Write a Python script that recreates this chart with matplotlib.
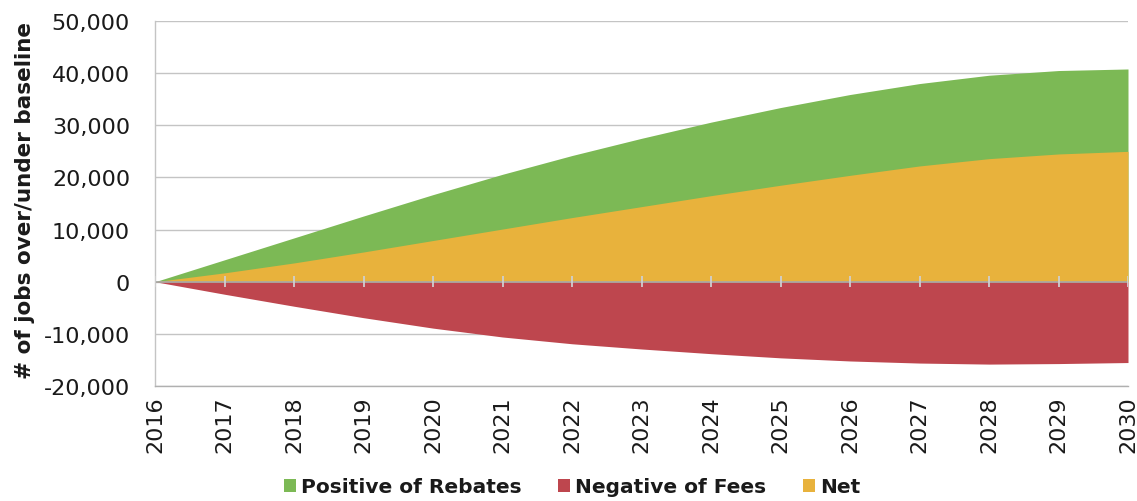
import matplotlib
matplotlib.use("Agg")
import matplotlib.pyplot as plt
from matplotlib.patches import Patch
from matplotlib.ticker import FuncFormatter, MultipleLocator

years = [2016, 2017, 2018, 2019, 2020, 2021, 2022, 2023, 2024, 2025, 2026, 2027, 2028, 2029, 2030]
positive_rebates = [0, 4200, 8400, 12600, 16700, 20600, 24200, 27500, 30600, 33400, 35900, 38000, 39600, 40500, 40800]
negative_fees = [0, -2400, -4700, -6900, -8900, -10600, -11900, -12900, -13800, -14600, -15200, -15600, -15800, -15700, -15500]
net = [0, 1700, 3600, 5700, 7900, 10100, 12300, 14400, 16500, 18500, 20400, 22200, 23600, 24500, 25000]

series_names = ["Positive of Rebates", "Negative of Fees", "Net"]
colors = ["#7cb955", "#be464e", "#e8b23c"]

fig = plt.figure(figsize=(11.37, 5.02), dpi=100)
ax = fig.add_axes([155 / 1137, 1 - 387 / 502, (1128 - 155) / 1137, (387 - 22) / 502])

grid_color = "#c4c4c4"
ax.set_axisbelow(True)
ax.yaxis.grid(True, color=grid_color, linewidth=1.0)
ax.xaxis.grid(False)

ax.fill_between(years, 0, positive_rebates, color=colors[0], linewidth=0, zorder=2)
ax.fill_between(years, 0, negative_fees, color=colors[1], linewidth=0, zorder=3)
ax.fill_between(years, 0, net, color=colors[2], linewidth=0, zorder=4)

# horizontal axis line at zero with crossing tick marks
ax.axhline(0, color="#a8a8a8", linewidth=1.2, zorder=5)
ax.vlines(years, -1100, 1100, color="#cfcfcf", linewidth=1.3, zorder=6)

ax.set_xlim(years[0], years[-1])
ax.set_ylim(-20000, 50000)
ax.yaxis.set_major_locator(MultipleLocator(10000))
ax.yaxis.set_major_formatter(FuncFormatter(lambda v, p: "{:,.0f}".format(v).replace("\u2212", "-")))
ax.set_xticks(years)
ax.set_xticklabels([str(y) for y in years], rotation=90)

for side in ["top", "right"]:
    ax.spines[side].set_visible(False)
ax.spines["left"].set_color(grid_color)
ax.spines["bottom"].set_color("#b0b0b0")
ax.spines["left"].set_linewidth(1.0)
ax.spines["bottom"].set_linewidth(1.0)

ax.tick_params(axis="y", length=0, pad=18, labelsize=16, labelcolor="#1a1a1a")
ax.tick_params(axis="x", length=0, pad=7, labelsize=16, labelcolor="#1a1a1a")

fig.text(25 / 1137, 1 - 201 / 502, "# of jobs over/under baseline", rotation=90,
         ha="center", va="center", fontsize=15.5, fontweight="bold", color="#1a1a1a")

handles = [Patch(facecolor=c, edgecolor="none") for c in colors]
leg = fig.legend(handles, series_names, loc="center", bbox_to_anchor=(572 / 1137, 1 - 488 / 502),
                 ncol=3, frameon=False, handlelength=0.6, handleheight=0.6, handletextpad=0.25,
                 columnspacing=1.8, prop={"size": 14.5, "weight": "bold"})
for t in leg.get_texts():
    t.set_color("#1a1a1a")

fig.savefig("out.png", dpi=100, facecolor="white")
